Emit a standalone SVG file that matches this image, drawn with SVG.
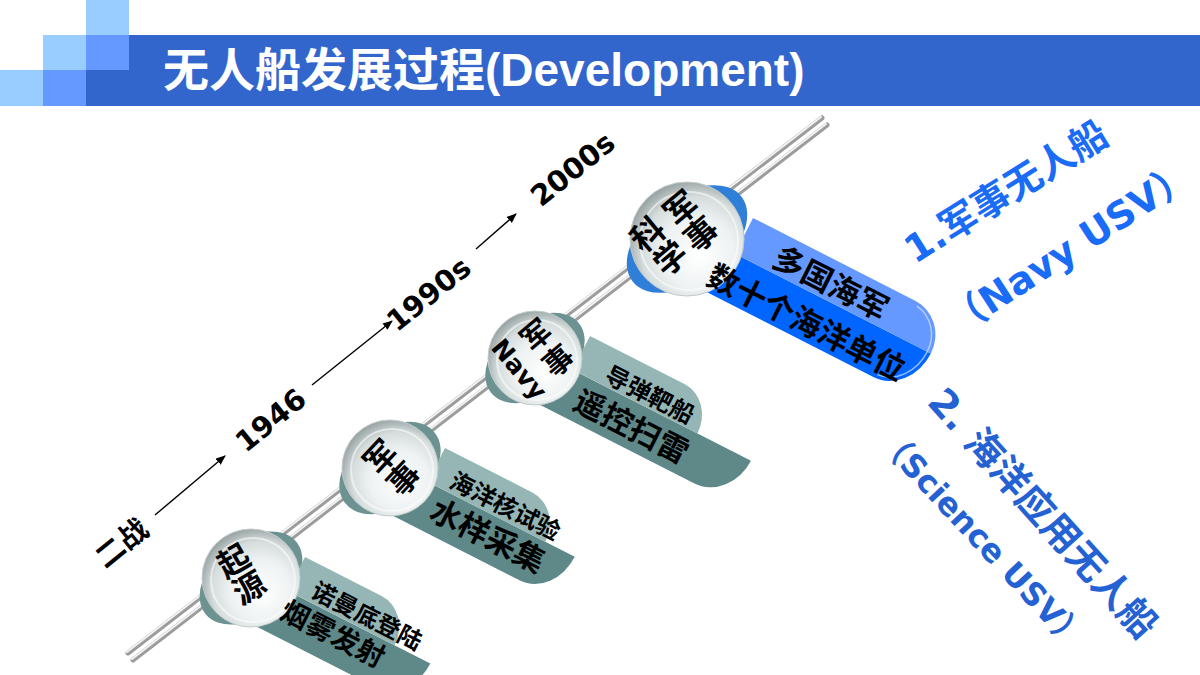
<svg xmlns="http://www.w3.org/2000/svg" width="1200" height="675" viewBox="0 0 1200 675">
  <defs>
    <radialGradient id="bead" cx="0.58" cy="0.6" r="0.62" fx="0.62" fy="0.66">
      <stop offset="0" stop-color="#ffffff"/>
      <stop offset="0.5" stop-color="#eef2f2"/>
      <stop offset="0.78" stop-color="#d6dddd"/>
      <stop offset="1" stop-color="#98a3a3"/>
    </radialGradient>
    <marker id="arr" viewBox="0 0 10 8" refX="9" refY="4" markerWidth="10" markerHeight="8" markerUnits="userSpaceOnUse" orient="auto">
      <path d="M0,0 L10,4 L0,8 Z" fill="#000"/>
    </marker>
  </defs>
  <style>
    .title { font-family: "Liberation Sans", "Noto Sans CJK SC", sans-serif; font-weight: 700; font-size: 46px; fill: #ffffff; }
    .year { font-family: "DejaVu Sans", "Noto Sans CJK SC", sans-serif; font-weight: 700; font-size: 29px; fill: #000; text-anchor: middle; }
    .bead { fill: url(#bead); stroke: #c2caca; stroke-width: 1; }
    .ring { fill: none; stroke: #ffffff; stroke-opacity: 0.55; stroke-width: 2; }
    .btxt { font-family: "DejaVu Sans", "Noto Sans CJK SC", sans-serif; font-weight: 700; fill: #000; text-anchor: middle; }
    .rtxt { font-family: "Noto Sans CJK SC", sans-serif; font-weight: 700; fill: #000; text-anchor: middle; }
    .tl { fill: #96b6b6; }
    .td { fill: #5f8888; }
    .tback { fill: #6c9292; }
    .bl { fill: #6699ff; }
    .bd { fill: #0066ff; }
    .bback { fill: #2f7fd9; }
    .side { font-family: "DejaVu Sans", "Noto Sans CJK SC", sans-serif; font-weight: 700; text-anchor: middle; }
    .tube { stroke: #9c9c9c; stroke-width: 5; stroke-linecap: round; }
    .tubehi { stroke: #f2f2f2; stroke-width: 2; stroke-linecap: round; }
    .arrow { stroke: #000; stroke-width: 1.4; fill: none; }
  </style>

  <rect width="1200" height="675" fill="#ffffff"/>

  <g id="header">
    <rect x="86" y="0" width="43" height="35" fill="#99ccff"/>
    <rect x="43" y="35" width="43" height="35" fill="#99ccff"/>
    <rect x="86" y="35" width="43" height="35" fill="#6699ff"/>
    <rect x="0" y="70" width="43" height="36" fill="#99ccff"/>
    <rect x="43" y="70" width="43" height="36" fill="#6699ff"/>
    <rect x="86" y="70" width="43" height="36" fill="#3366cc"/>
    <rect x="129" y="35" width="1071" height="71" fill="#3366cc"/>
    <text class="title" x="163" y="86">无人船发展过程(Development)</text>
  </g>

  <g id="connectors">
    <g id="rail">
      <line class="tube" x1="128" y1="653" x2="822" y2="118"/>
      <line class="tubehi" x1="127" y1="652" x2="821" y2="117"/>
      <line class="tube" x1="133" y1="660" x2="827" y2="125"/>
      <line class="tubehi" x1="132" y1="659" x2="826" y2="124"/>
    </g>
    <line class="arrow" x1="155" y1="515" x2="225" y2="456" marker-end="url(#arr)"/>
    <line class="arrow" x1="312" y1="385" x2="392" y2="321" marker-end="url(#arr)"/>
    <line class="arrow" x1="476" y1="249" x2="516" y2="214" marker-end="url(#arr)"/>
  </g>

  <g id="timeline-labels">
    <text class="year" transform="translate(128,551) rotate(-39)">二战</text>
    <text class="year" transform="translate(277,428) rotate(-39)">1946</text>
    <text class="year" font-size="30" transform="translate(435,302) rotate(-39)">1990s</text>
    <text class="year" font-size="33" transform="translate(579,177) rotate(-39)">2000s</text>
  </g>

  <g id="node-origin">
    <ellipse class="tback" cx="251" cy="578" rx="58" ry="38" transform="rotate(-38 251 578)"/>
    <g transform="translate(305,557) rotate(27)">
      <path class="td" d="M-40,38 H160 A38,46 0 0 1 122,84 H-40 Z"/>
      <path class="tl" d="M0,0 H86 A34,38 0 0 1 120,38 H0 Z"/>
    </g>
    <circle class="bead" cx="251" cy="578" r="49"/>
    <circle class="ring" cx="253" cy="580" r="42"/>
    <g class="btxt" font-size="32" transform="translate(251,578) rotate(-30)">
      <text x="-6.5" y="-12">起</text>
      <text x="-6.5" y="19">源</text>
    </g>
    <g transform="translate(305,557) rotate(27)">
      <text class="rtxt" font-size="24" x="82" y="33">诺曼底登陆</text>
      <text class="rtxt" font-size="28" x="60" y="66">烟雾发射</text>
    </g>
  </g>

  <g id="node-nuclear">
    <ellipse class="tback" cx="390" cy="468" rx="57" ry="38" transform="rotate(-38 390 468)"/>
    <g transform="translate(445,448) rotate(27)">
      <path class="td" d="M-40,38 H165 A38,46 0 0 1 127,84 H-40 Z"/>
      <path class="tl" d="M0,0 H98 A34,38 0 0 1 132,38 H0 Z"/>
    </g>
    <circle class="bead" cx="390" cy="468" r="48"/>
    <circle class="ring" cx="392" cy="470" r="41"/>
    <g class="btxt" font-size="32" transform="translate(390,468) rotate(-47)">
      <text x="1.5" y="-3">军</text>
      <text x="1.5" y="29">事</text>
    </g>
    <g transform="translate(445,448) rotate(27)">
      <text class="rtxt" font-size="24" x="80" y="33">海洋核试验</text>
      <text class="rtxt" font-size="31" x="78" y="70">水样采集</text>
    </g>
  </g>

  <g id="node-navy">
    <ellipse class="tback" cx="535" cy="358" rx="56" ry="37" transform="rotate(-38 535 358)"/>
    <g transform="translate(590,336) rotate(27)">
      <path class="td" d="M-40,38 H200 A40,46 0 0 1 160,84 H-40 Z"/>
      <path class="tl" d="M0,0 H106 A34,38 0 0 1 140,38 H0 Z"/>
    </g>
    <circle class="bead" cx="535" cy="358" r="47"/>
    <circle class="ring" cx="537" cy="360" r="40"/>
    <g class="btxt" transform="translate(535,358) rotate(-40)">
      <text font-size="30" x="15.5" y="-6">军</text>
      <text font-size="30" x="16" y="28">事</text>
      <text font-size="25" transform="translate(-28,-1.5) rotate(90)">Navy</text>
    </g>
    <g transform="translate(590,336) rotate(27)">
      <text class="rtxt" font-size="24" x="80" y="34">导弹靶船</text>
      <text class="rtxt" font-size="31" x="78" y="73">遥控扫雷</text>
    </g>
  </g>

  <g id="node-science">
    <ellipse class="bback" cx="687" cy="239" rx="69" ry="42" transform="rotate(-38 687 239)"/>
    <g transform="translate(753,218) rotate(27)">
      <path class="bd" d="M-70,40 H220 A40,47 0 0 1 180,87 H-70 Z"/>
      <path class="bl" d="M0,0 H182 A38,40 0 0 1 220,40 H0 Z"/>
      <path d="M186,4 A34,36 0 0 1 216,40 A36,43 0 0 1 182,83" fill="none" stroke="#cfe0ff" stroke-opacity="0.7" stroke-width="1.5"/>
    </g>
    <circle class="bead" cx="687" cy="239" r="57"/>
    <circle class="ring" cx="689" cy="241" r="49"/>
    <g class="btxt" font-size="33" transform="translate(687,239) rotate(-40)">
      <text x="15" y="-15.5">军</text>
      <text x="14" y="17.5">事</text>
      <text x="-27" y="-17">科</text>
      <text x="-25" y="16">学</text>
    </g>
    <g transform="translate(753,218) rotate(27)">
      <text class="rtxt" font-size="31" x="99" y="34">多国海军</text>
      <text class="rtxt" font-size="31" x="95" y="80">数十个海洋单位</text>
    </g>
  </g>

  <g id="navy-usv">
    <text class="side" font-size="38" fill="#1a6bf5" transform="translate(1013,203) rotate(-32)">1.军事无人船</text>
    <text class="side" font-size="38" fill="#1a6bf5" transform="translate(1077,259) rotate(-33)">（Navy USV）</text>
  </g>

  <g id="science-usv">
    <text class="side" font-size="38" fill="#2462d4" transform="translate(1033,522) rotate(48)">2. 海洋应用无人船</text>
    <text class="side" font-size="32" fill="#2462d4" transform="translate(974,547) rotate(47)">（Science USV）</text>
  </g>
</svg>
